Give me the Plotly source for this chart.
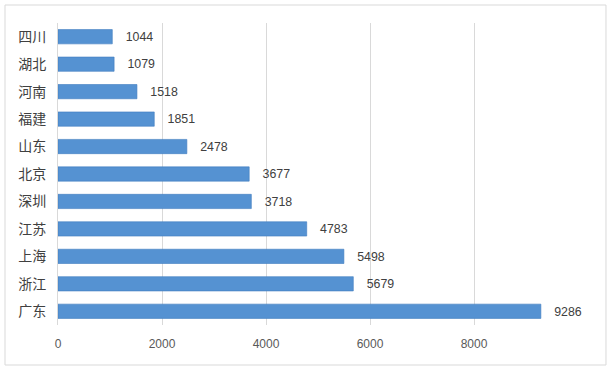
import plotly.graph_objects as go

provinces = ["四川", "湖北", "河南", "福建", "山东", "北京", "深圳", "江苏", "上海", "浙江", "广东"]
values = [1044, 1079, 1518, 1851, 2478, 3677, 3718, 4783, 5498, 5679, 9286]
x_ticks = [0, 2000, 4000, 6000, 8000, 10000]
x_tick_labels = ["0", "2000", "4000", "6000", "8000", ""]

fig = go.Figure()
fig.add_trace(go.Bar(
    y=provinces,
    x=values,
    orientation="h",
    width=0.52,
    marker=dict(color="#5592D2", line=dict(color="#3F7CC0", width=0.6)),
    text=values,
    texttemplate="\u00a0\u00a0\u00a0%{x}",
    textposition="outside",
    cliponaxis=False,
    textfont=dict(family="Liberation Sans, Arial, sans-serif", size=13, color="#404040"),
))

fig.update_layout(
    width=611, height=370,
    margin=dict(l=58, r=33, t=23, b=45),
    paper_bgcolor="white",
    plot_bgcolor="white",
    showlegend=False,
    xaxis=dict(
        range=[0, 10000],
        tickvals=x_ticks,
        ticktext=x_tick_labels,
        showgrid=True,
        gridcolor="#D9D9D9",
        gridwidth=1,
        zeroline=False,
        showline=False,
        ticks="",
        automargin=False,
        ticklabelstandoff=10,
        tickfont=dict(family="Liberation Sans, Arial, sans-serif", size=12, color="#595959"),
    ),
    yaxis=dict(
        autorange="reversed",
        showgrid=False,
        showline=True,
        linecolor="#D9D9D9",
        linewidth=1,
        ticks="",
        automargin=False,
        ticklabelstandoff=8,
        tickfont=dict(family="Noto Sans CJK SC, sans-serif", size=14, color="#404040"),
    ),
    shapes=[dict(
        type="rect", xref="paper", yref="paper",
        x0=-0.1019, x1=1.0538, y0=-0.1325, y1=1.0596,
        line=dict(color="#D9D9D9", width=1),
        fillcolor="rgba(0,0,0,0)", layer="below",
    )],
)

fig.write_html("out.html", config={"displayModeBar": False},
               post_script="document.body.style.margin='0';")
